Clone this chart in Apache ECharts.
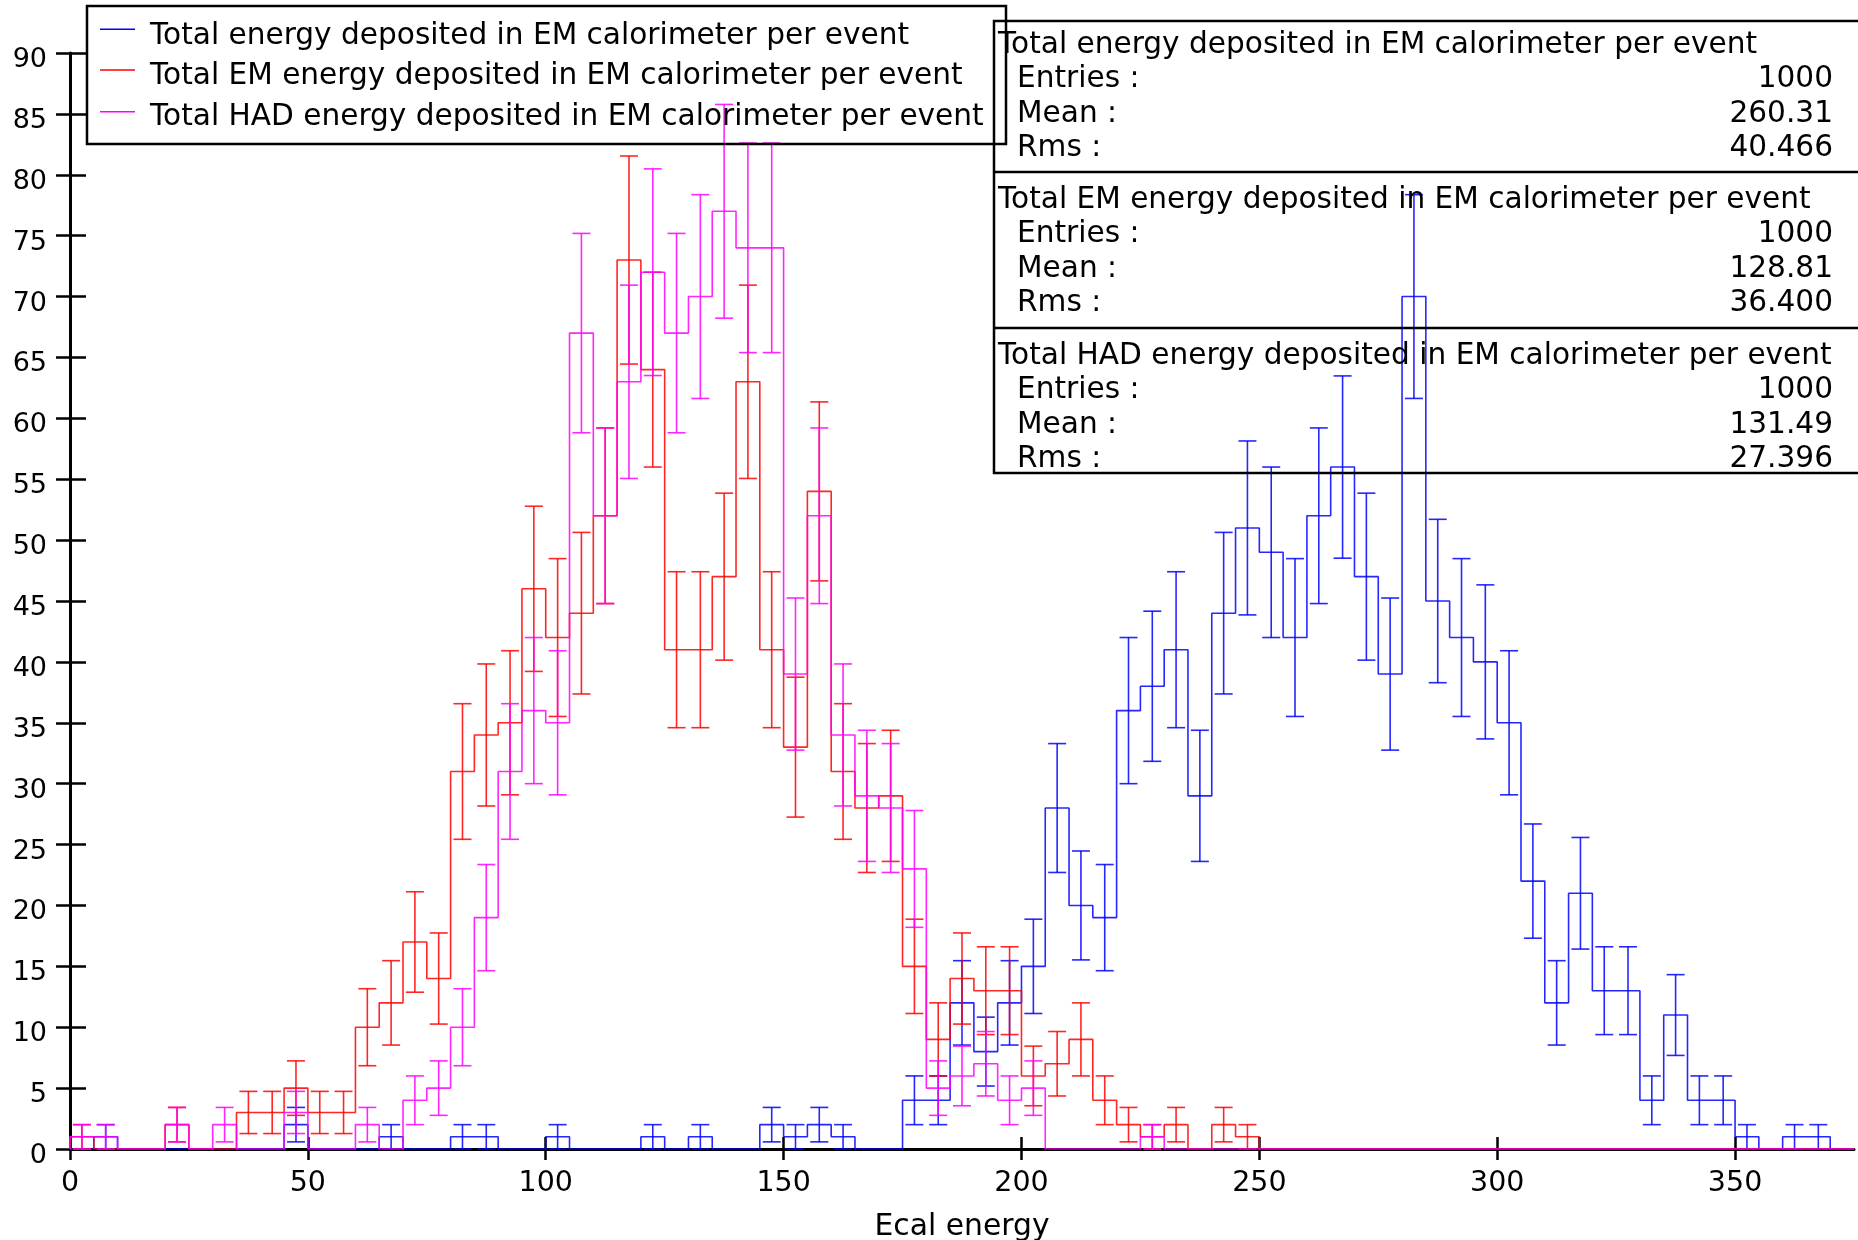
<!DOCTYPE html>
<html><head><meta charset="utf-8">
<script src="https://cdn.jsdelivr.net/npm/echarts@6/dist/echarts.min.js"></script>
<style>html,body{margin:0;padding:0;background:#fff}#c{width:1858px;height:1240px}</style>
</head><body><div id="c"></div><script>
// ---- data (counts per 5-unit bin, bins starting at 0,5,...,370) ----
const BIN_WIDTH = 5;
const X_MAX = 375;
const totalCounts = [0,1,0,0,0,0,0,0,0,2, 0,0,0,1,0,0,1,1,0,0, 1,0,0,0,1,0,1,0,0,2, 1,2,1,0,0,4,4,12,8,12,
  15,28,20,19,36,38,41,29,44,51, 49,42,52,56,47,39,70,45,42,40, 35,22,12,21,13,13,4,11,4,4, 1,0,1,1,0];
const emCounts = [1,0,0,0,2,0,0,3,3,5, 3,3,10,12,17,14,31,34,35,46, 42,44,52,73,64,41,41,47,63,41,
  33,54,31,28,29,15,9,14,13,13, 6,7,9,4,2,1,2,0,2,1, 0,0,0,0,0,0,0,0,0,0, 0,0,0,0,0,0,0,0,0,0, 0,0,0,0,0];
const hadCounts = [1,1,0,0,2,0,2,0,0,3, 0,0,2,0,4,5,10,19,31,36, 35,67,52,63,72,67,70,77,74,74,
  39,52,34,29,28,23,5,6,7,4, 5,0,0,0,0,1,0,0,0,0, 0,0,0,0,0,0,0,0,0,0, 0,0,0,0,0,0,0,0,0,0, 0,0,0,0,0];
const seriesNames = [
  'Total energy deposited in EM calorimeter per event',
  'Total EM energy deposited in EM calorimeter per event',
  'Total HAD energy deposited in EM calorimeter per event'
];
const seriesColors = ['#0000ff', '#ff0000', '#ff00ff'];
const xTickValues = [0, 50, 100, 150, 200, 250, 300, 350];
const statEntries = ['1000', '1000', '1000'];
const statMeans = ['260.31', '128.81', '131.49'];
const statRms = ['40.466', '36.400', '27.396'];
const xAxisTitle = 'Ecal energy';

// ---- build ----
const FONT = 'DejaVu Sans';
const TXT_FONT = '29.6px "DejaVu Sans"';
function stepData(vals) {
  const d = [[0, 0]];
  vals.forEach((v, i) => d.push([i * BIN_WIDTH, v]));
  d.push([X_MAX, vals[vals.length - 1]]);
  d.push([X_MAX, 0]);
  return d;
}
function errData(vals) {
  const d = [];
  vals.forEach((v, i) => { if (v > 0) d.push([i * BIN_WIDTH + BIN_WIDTH / 2, v]); });
  return d;
}
function errRender(color) {
  return function (params, api) {
    const x = api.value(0), v = api.value(1);
    const e = Math.sqrt(v);
    const t = api.coord([x, v + e]);
    const b = api.coord([x, v - e]);
    const hw = 9;
    const st = { stroke: color, lineWidth: 1.6, opacity: 0.85 };
    return { type: 'group', children: [
      { type: 'line', shape: { x1: t[0], y1: t[1], x2: b[0], y2: b[1] }, style: st },
      { type: 'line', shape: { x1: t[0] - hw, y1: t[1], x2: t[0] + hw, y2: t[1] }, style: st },
      { type: 'line', shape: { x1: b[0] - hw, y1: b[1], x2: b[0] + hw, y2: b[1] }, style: st }
    ]};
  };
}
const allCounts = [totalCounts, emCounts, hadCounts];
const series = [];
allCounts.forEach((vals, k) => {
  series.push({
    name: seriesNames[k], type: 'line', step: 'end', data: stepData(vals),
    showSymbol: false, symbol: 'none', color: seriesColors[k],
    lineStyle: { color: seriesColors[k], width: 1.6, opacity: 0.85 },
    itemStyle: { color: seriesColors[k] }, animation: false, z: 2 + k, silent: true
  });
  series.push({
    name: seriesNames[k], type: 'custom', data: errData(vals), renderItem: errRender(seriesColors[k]),
    color: seriesColors[k], animation: false, z: 2 + k, silent: true, clip: false
  });
});

function txt(x, y, s, align) {
  return { type: 'text', z: 100, style: { x: x, y: y, text: s, font: TXT_FONT, fill: '#000',
    align: align, textAlign: align, verticalAlign: 'middle', textVerticalAlign: 'middle' } };
}
const gfx = [];
// legend box (drawn as graphic for exact placement)
gfx.push({ type: 'rect', shape: { x: 87, y: 6, width: 919, height: 138 },
  style: { fill: 'none', stroke: '#000', lineWidth: 2.5 }, z: 100 });
const legLineY = [29.3, 70, 111.7];
const legTextY = [36, 76.7, 117.8];
for (let k = 0; k < 3; k++) {
  gfx.push({ type: 'line', z: 100, shape: { x1: 100, y1: legLineY[k], x2: 135, y2: legLineY[k] },
    style: { stroke: seriesColors[k], lineWidth: 1.6 } });
  gfx.push(txt(150, legTextY[k], seriesNames[k], 'left'));
}
// stats box
const boxL = 994, boxR = 1860;
gfx.push({ type: 'rect', shape: { x: boxL, y: 21, width: boxR - boxL, height: 452 },
  style: { fill: 'none', stroke: '#000', lineWidth: 2.5 }, z: 100 });
[172, 328].forEach(y => gfx.push({ type: 'line', shape: { x1: boxL, y1: y, x2: boxR, y2: y },
  style: { stroke: '#000', lineWidth: 2.5 }, z: 100 }));
const titleY = [45, 200, 356];
for (let k = 0; k < 3; k++) {
  const y0 = titleY[k];
  gfx.push(txt(998, y0, seriesNames[k], 'left'));
  gfx.push(txt(1017, y0 + 34.5, 'Entries :', 'left'));
  gfx.push(txt(1017, y0 + 69, 'Mean :', 'left'));
  gfx.push(txt(1017, y0 + 103.5, 'Rms :', 'left'));
  gfx.push(txt(1833, y0 + 34.5, statEntries[k], 'right'));
  gfx.push(txt(1833, y0 + 69, statMeans[k], 'right'));
  gfx.push(txt(1833, y0 + 103.5, statRms[k], 'right'));
}

const chart = echarts.init(document.getElementById('c'), null, { renderer: 'canvas' });
chart.setOption({
  animation: false,
  backgroundColor: '#fff',
  textStyle: { fontFamily: FONT },
  grid: { left: 70, right: 4, top: 53, bottom: 91, containLabel: false, outerBoundsMode: 'none' },
  xAxis: [{
    type: 'value', min: 0, max: X_MAX, interval: 50, position: 'bottom',
    name: xAxisTitle, nameLocation: 'middle', nameGap: 63,
    nameTextStyle: { fontFamily: FONT, fontSize: 29.8, color: '#000' },
    axisLine: { show: true, onZero: false, lineStyle: { color: '#000', width: 3 } },
    axisTick: { show: true, inside: false, length: 11, lineStyle: { color: '#000', width: 2.5 }, customValues: xTickValues },
    axisLabel: { show: true, margin: 20, fontFamily: FONT, fontSize: 28.5, color: '#000', customValues: xTickValues },
    splitLine: { show: false }
  }, {
    type: 'value', min: 0, max: X_MAX, interval: 50, position: 'bottom',
    axisLine: { show: false }, axisLabel: { show: false }, splitLine: { show: false },
    axisTick: { show: true, inside: true, length: 12, lineStyle: { color: '#000', width: 2.5 }, customValues: xTickValues }
  }],
  yAxis: [{
    type: 'value', min: 0, max: 90, interval: 5, position: 'left',
    axisLine: { show: true, onZero: false, lineStyle: { color: '#000', width: 3 } },
    axisTick: { show: true, inside: false, length: 14, lineStyle: { color: '#000', width: 2.5 } },
    axisLabel: { show: true, margin: 23, fontFamily: FONT, fontSize: 27, color: '#000',
      verticalAlign: 'top', lineHeight: 14 },
    splitLine: { show: false }
  }, {
    type: 'value', min: 0, max: 90, interval: 5, position: 'left',
    axisLine: { show: false }, axisLabel: { show: false }, splitLine: { show: false },
    axisTick: { show: true, inside: true, length: 16, lineStyle: { color: '#000', width: 2.5 } }
  }],
  series: series,
  graphic: gfx
});
</script></body></html>
